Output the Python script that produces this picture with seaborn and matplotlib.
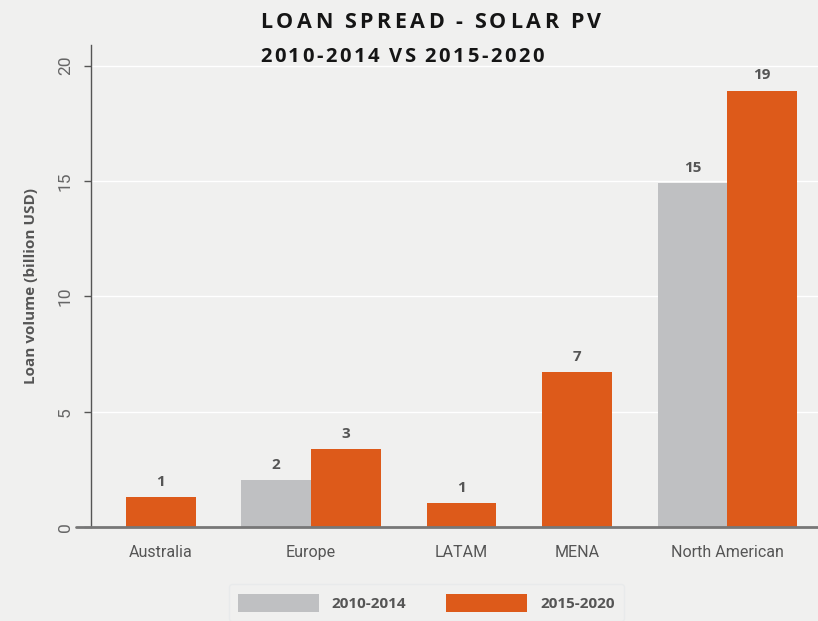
import numpy as np
import pandas as pd
import matplotlib
matplotlib.use("Agg")
import matplotlib.pyplot as plt
from matplotlib.patches import Patch
import seaborn as sns

# Loan volume (billion USD) per region and period; None = no loans in that period
regions = ["Australia", "Europe", "LATAM", "MENA", "North American"]
series = ["2010-2014", "2015-2020"]
vol_2010_2014 = [None, 2.04, None, None, 14.92]
vol_2015_2020 = [1.30, 3.38, 1.04, 6.72, 18.92]
colors = {"2010-2014": "#bfc0c2", "2015-2020": "#dd5a1a"}
yticks = [0, 5, 10, 15, 20]

BG = "#f0f0ef"
TEXT = "#555555"
TICKFONT = ["Roboto", "DejaVu Sans"]

sns.set_theme(style="white")
plt.rcParams["font.family"] = ["Open Sans", "DejaVu Sans"]

# Lay bars out group by group: present bars sit side by side, groups
# separated by a fixed gap, so single-bar regions stay centred.
gap = 0.657
rows, centers = [], []
cursor = 0.0
for i, reg in enumerate(regions):
    start = cursor
    for name, vals in zip(series, [vol_2010_2014, vol_2015_2020]):
        v = vals[i]
        if v is None:
            continue
        rows.append({"pos": cursor + 0.5, "value": v, "series": name, "region": reg})
        cursor += 1.0
    centers.append((start + cursor) / 2)
    cursor += gap
df = pd.DataFrame(rows)

fig = plt.figure(figsize=(8.18, 6.21), dpi=100, facecolor=BG)
ax = fig.add_axes([0.1112, 0.1514, 0.8888, 0.7762], facecolor=BG)

sns.barplot(data=df, x="pos", y="value", hue="series", hue_order=series,
            palette=colors, native_scale=True, dodge=False, width=1.0,
            saturation=1, legend=False, linewidth=0, edgecolor="none", ax=ax)

ax.set_xlim(-0.5, cursor - gap + 0.3)
ax.set_ylim(0, 20.9)

# Value labels above each bar
for _, r in df.iterrows():
    ax.annotate(f"{r['value']:.0f}", (r["pos"], r["value"]),
                xytext=(0, 6), textcoords="offset points",
                ha="center", va="bottom", fontsize=11, fontweight="bold",
                color=TEXT)

ax.set_xticks(centers)
ax.set_xticklabels(regions, fontsize=11.5, color=TEXT, family=TICKFONT)
ax.tick_params(axis="x", length=0, pad=13)
ax.set_yticks(yticks)
ax.set_yticklabels([str(t) for t in yticks], rotation=90, va="center",
                   fontsize=12.5, color="#666666", family=TICKFONT)
ax.tick_params(axis="y", length=5, width=1, color=TEXT, pad=8, left=True)
ax.yaxis.grid(True, color="white", linewidth=1)
ax.set_axisbelow(True)

for s in ["top", "right", "bottom"]:
    ax.spines[s].set_visible(False)
ax.spines["left"].set_color(TEXT)
ax.spines["left"].set_linewidth(1)
ax.axhline(0, xmin=-0.02, xmax=1, color="#777777", linewidth=2, clip_on=False,
           zorder=5)

ax.set_xlabel("")
ax.set_ylabel("Loan volume (billion USD)", fontsize=11, fontweight="bold",
              color=TEXT, labelpad=14)


def tracked_text(x, y, s, size, tracking, space):
    """Draw letter-spaced bold text starting at figure pixel x, baseline y."""
    r = fig.canvas.get_renderer()
    for ch in s:
        t = fig.text(x / fig.bbox.width, y / fig.bbox.height, ch, fontsize=size,
                     fontweight="bold", color="#151515", va="baseline")
        w = t.get_window_extent(renderer=r).width
        if ch == " ":
            w = space
        x += w + tracking


H = fig.bbox.height
tracked_text(260, H - 28, "LOAN SPREAD - SOLAR PV", 15.5, 3.65, 4.0)
tracked_text(260, H - 62, "2010-2014 VS 2015-2020", 14.5, 2.6, 4.0)

handles = [Patch(facecolor=colors[s], edgecolor="none", label=s) for s in series]
leg = fig.legend(handles=handles, loc="lower center", bbox_to_anchor=(0.521, -0.012),
                 ncol=2, frameon=True, fontsize=11, handlelength=5.3,
                 handleheight=1.45, handletextpad=0.85, columnspacing=2.6,
                 borderpad=0.6)
leg.get_frame().set_facecolor(BG)
leg.get_frame().set_edgecolor("#e6e9ea")
leg.get_frame().set_linewidth(1)
for t in leg.get_texts():
    t.set_color(TEXT)
    t.set_fontweight("bold")

fig.savefig("out.png", dpi=100, facecolor=BG)
